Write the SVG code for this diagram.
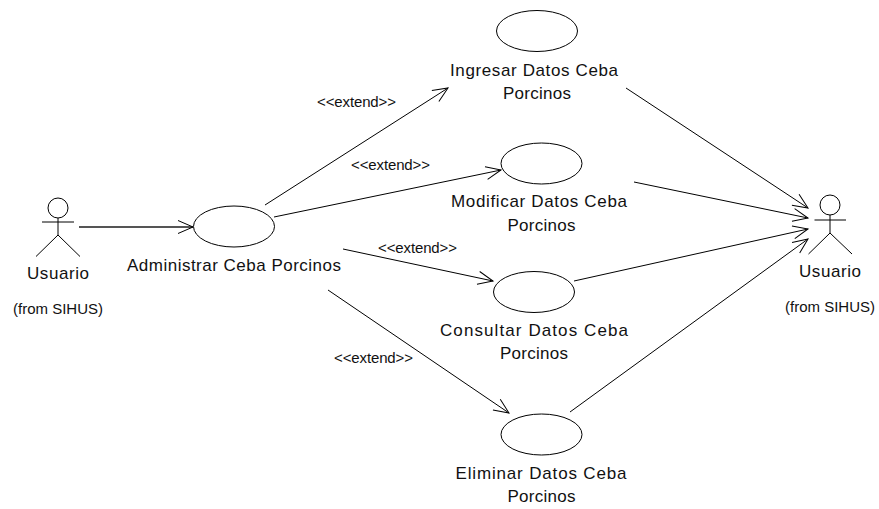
<svg xmlns="http://www.w3.org/2000/svg" width="879" height="509" viewBox="0 0 879 509">
<style>
text{font-family:"Liberation Sans",Arial,sans-serif;fill:#111}
.l{font-size:17px;text-anchor:middle}
.s{font-size:15px}
.e{font-size:15px}
.o{fill:#fff;stroke:#000;stroke-width:1}
.c line{stroke:#000;stroke-width:1;marker-end:url(#a)}
.f{fill:none;stroke:#000;stroke-width:1}
</style>
<defs>
<marker id="a" markerUnits="userSpaceOnUse" markerWidth="24" markerHeight="24" refX="17" refY="12" orient="auto">
<path d="M2 5.500L17 12L2 18.500" fill="none" stroke="#000" stroke-width="1"/>
</marker>
</defs>
<rect width="879" height="509" fill="#fff"/>
<g id="connectors" class="c">
<line x1="79" y1="227" x2="193" y2="227" style="stroke-width:2;stroke:#555"/>
<line x1="265" y1="205" x2="448" y2="88"/>
<line x1="274" y1="217" x2="501" y2="170"/>
<line x1="343" y1="249" x2="493" y2="281"/>
<line x1="328" y1="290" x2="509" y2="413"/>
<line x1="626" y1="88" x2="808" y2="208"/>
<line x1="634" y1="182" x2="808" y2="218"/>
<line x1="574" y1="281" x2="808" y2="229"/>
<line x1="570" y1="412" x2="808" y2="239"/>
</g>
<g id="actor-left">
<circle class="f" cx="58" cy="208" r="10"/>
<path class="f" d="M42 222H74M58 218V235L36 256.500M58 235L80 256.500"/>
<text class="l" x="58" y="279" textLength="62" lengthAdjust="spacing">Usuario</text>
<text class="s" x="13" y="314" textLength="90" lengthAdjust="spacing">(from SIHUS)</text>
</g>
<g id="actor-right">
<circle class="f" cx="830" cy="205" r="10"/>
<path class="f" d="M814.500 220H846M830 215V233L808.500 254M830 233L852 254"/>
<text class="l" x="830" y="277" textLength="62" lengthAdjust="spacing">Usuario</text>
<text class="s" x="785" y="312" textLength="90" lengthAdjust="spacing">(from SIHUS)</text>
</g>
<g id="uc-admin">
<ellipse class="o" cx="234" cy="226.500" rx="40.500" ry="20.500"/>
<text class="l" x="234" y="271" textLength="214" lengthAdjust="spacing">Administrar Ceba Porcinos</text>
</g>
<g id="uc-ingresar">
<ellipse class="o" cx="537" cy="31" rx="40.500" ry="20.500"/>
<text class="l" x="534" y="76" textLength="168" lengthAdjust="spacing">Ingresar Datos Ceba</text>
<text class="l" x="537" y="99" textLength="68" lengthAdjust="spacing">Porcinos</text>
</g>
<g id="uc-modificar">
<ellipse class="o" cx="541.500" cy="163.500" rx="40.500" ry="20.500"/>
<text class="l" x="539" y="207" textLength="176" lengthAdjust="spacing">Modificar Datos Ceba</text>
<text class="l" x="541.500" y="231" textLength="68" lengthAdjust="spacing">Porcinos</text>
</g>
<g id="uc-consultar">
<ellipse class="o" cx="534" cy="292" rx="40.500" ry="20.500"/>
<text class="l" x="534" y="336" textLength="188" lengthAdjust="spacing">Consultar Datos Ceba</text>
<text class="l" x="534" y="359" textLength="68" lengthAdjust="spacing">Porcinos</text>
</g>
<g id="uc-eliminar">
<ellipse class="o" cx="541.500" cy="434.500" rx="40.500" ry="20.500"/>
<text class="l" x="541" y="479" textLength="171" lengthAdjust="spacing">Eliminar Datos Ceba</text>
<text class="l" x="541.500" y="502" textLength="68" lengthAdjust="spacing">Porcinos</text>
</g>
<g id="labels">
<text class="e" x="317" y="107" textLength="79" lengthAdjust="spacing">&lt;&lt;extend&gt;&gt;</text>
<text class="e" x="351" y="170" textLength="79" lengthAdjust="spacing">&lt;&lt;extend&gt;&gt;</text>
<text class="e" x="378" y="253" textLength="79" lengthAdjust="spacing">&lt;&lt;extend&gt;&gt;</text>
<text class="e" x="334" y="363" textLength="79" lengthAdjust="spacing">&lt;&lt;extend&gt;&gt;</text>
</g>
</svg>
